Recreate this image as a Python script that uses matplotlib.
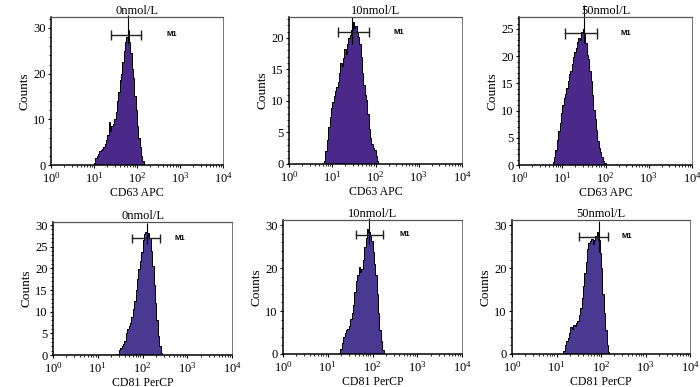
import matplotlib
matplotlib.use("Agg")
import matplotlib.pyplot as plt
from matplotlib.ticker import AutoMinorLocator, LogLocator, MultipleLocator
import numpy as np

plt.rcParams['font.family'] = ['Liberation Serif', 'DejaVu Serif']
plt.rcParams['mathtext.default'] = 'regular'

# histogram channels: 32 per decade, first channel index given per panel
per_decade = 32

cd63_0_start = 32
cd63_0 = [0.5, 1.5, 2, 2.5, 3, 3.3, 3.6, 4, 4.5, 5.5, 6.5, 9.5, 7.5, 8.5, 9, 10,
          11.5, 14, 16, 18.5, 20, 22.5, 25, 27, 28, 29.5, 27, 24.5, 21, 19, 15,
          12, 8.5, 6, 4, 2, 0.8]
cd63_10_start = 26
cd63_10 = [0.5, 2, 3.8, 5.8, 7.5, 8.8, 9.8, 10.8, 11.5, 12.2, 13, 14.5, 16, 15.5,
           16.8, 18.2, 17.5, 19, 20, 20.5, 21.2, 22.5, 21.5, 21.8, 21, 20.2, 19,
           17, 14.5, 12.5, 11, 10.2, 8, 5.5, 4.2, 3.2, 2.6, 2.2, 1.3, 0.5]
cd63_50_start = 25
cd63_50 = [0.5, 1.4, 2.8, 4.6, 6.2, 7.8, 9.6, 11, 12.3, 13, 14.2, 15.5, 16.8, 17.3,
           18.6, 19.8, 20.8, 21.5, 22.6, 23.4, 23, 24.5, 25, 24, 22.5, 20.2, 19.5,
           17.2, 15.5, 12.8, 10.2, 8.4, 6.5, 4.5, 3.2, 2.4, 1.5, 0.8, 0.3]
cd81_0_start = 46
cd81_0 = [0.3, 1.2, 1.6, 2, 2.6, 3.2, 5, 6, 6.6, 7.5, 8.8, 10.6, 12.5, 15, 17.5,
          19.8, 21.8, 23.8, 26.5, 28, 28.5, 27.5, 28.2, 27, 24, 20.5, 16.2, 12, 8,
          4.5, 2, 0.4]
cd81_10_start = 40
cd81_10 = [0.3, 1.1, 2.6, 4, 5, 5.5, 5.8, 6.5, 8.2, 9.5, 11.5, 14.5, 17, 18.5, 20.3,
           19.2, 19.8, 22, 24.8, 27, 29, 28.5, 27.5, 26.2, 23.8, 21, 18.5, 14, 9.5,
           5.5, 3, 1]
cd81_50_start = 37
cd81_50 = [0.8, 2, 3, 3.8, 5, 6.2, 5.8, 6.8, 6.5, 7.2, 7.6, 9, 10.8, 13, 15.8, 18.8,
           21.5, 24.5, 25.8, 26.2, 26.8, 25.5, 26.5, 27.5, 28.5, 26.5, 23.5, 20, 14,
           9.5, 5.5, 2.2, 0.5]

titles = ['0nmol/L', '10nmol/L', '50nmol/L'] * 2
xlabels = ['CD63 APC'] * 3 + ['CD81 PerCP'] * 3
ymax = [32.4, 23.3, 27.2, 30.7, 31.2, 31.2]
ystep = [10, 5, 5, 5, 10, 10]
# peak spike (x, top), M1 gate (left, right, height), M1 label x
spike_x = [63, 29, 31.5, 123, 85, 90]
spike_top = [32.9, 23.3, 29.4, 30.5, 31.6, 30.9]
gate_lo = [24.5, 13.8, 11.7, 59, 42, 32.5]
gate_hi = [126, 72, 63, 245, 174, 141]
gate_y = [28.5, 20.9, 24.2, 26.9, 27.8, 27.3]
m1_x = [650, 340, 295, 690, 540, 380]

data = [(cd63_0_start, cd63_0), (cd63_10_start, cd63_10), (cd63_50_start, cd63_50),
        (cd81_0_start, cd81_0), (cd81_10_start, cd81_10), (cd81_50_start, cd81_50)]
fills = ['#4a298a'] * 3 + ['#4a3990'] * 3

W, H = 700, 387
boxes = [(51, 17, 223, 165), (289, 17, 462, 164), (519, 17, 692, 165),
         (53, 222, 232, 355), (283, 220, 462, 354), (512, 220, 690, 354)]

fig = plt.figure(figsize=(7, 3.87), dpi=100)
for i in range(6):
    x0, y0, x1, y1 = boxes[i]
    ax = fig.add_axes([x0 / W, 1 - y1 / H, (x1 - x0) / W, (y1 - y0) / H])
    start, counts = data[i]
    edges = 10 ** ((start + np.arange(len(counts) + 1)) / per_decade)
    ax.stairs(counts, edges, fill=True, color=fills[i])
    ax.stairs(counts, edges, color='black', lw=0.7)
    # spike from the top of its bin upwards
    k = np.searchsorted(edges, spike_x[i]) - 1
    ax.vlines(spike_x[i], counts[k] * 0.9, spike_top[i], color='black', lw=0.8, clip_on=False)

    d = ymax[i] * 0.035
    ax.plot([gate_lo[i], gate_hi[i]], [gate_y[i], gate_y[i]], color='#222222', lw=1.0)
    ax.vlines([gate_lo[i], gate_hi[i]], gate_y[i] - d, gate_y[i] + d, color='#222222', lw=1.0)
    ax.text(m1_x[i], gate_y[i], 'M1', fontsize=5.5, fontweight='bold',
            family='Liberation Sans', va='center', ha='center')

    ax.set_xscale('log')
    ax.set_xlim(1, 1e4)
    ax.set_ylim(0, ymax[i])
    ax.xaxis.set_major_locator(LogLocator(base=10, numticks=10))
    ax.xaxis.set_minor_locator(LogLocator(base=10, subs=np.arange(2, 10), numticks=20))
    ax.yaxis.set_major_locator(MultipleLocator(ystep[i]))
    ax.yaxis.set_minor_locator(AutoMinorLocator(5))
    ax.tick_params(labelsize=9, length=2.5, width=0.8, pad=1.5)
    ax.tick_params(which='minor', length=1.5, width=0.6)

    ax.spines['left'].set_linewidth(1.1)
    ax.spines['bottom'].set_linewidth(1.1)
    ax.spines['top'].set_color('#555555')
    ax.spines['right'].set_color('#777777')
    ax.spines['top'].set_linewidth(0.9)
    ax.spines['right'].set_linewidth(0.7)

    ax.set_title(titles[i], fontsize=9, pad=2)
    ax.set_xlabel(xlabels[i], fontsize=8.5, labelpad=1)
    ax.set_ylabel('Counts', fontsize=9.5, labelpad=2)

fig.savefig('out.png', dpi=100)
